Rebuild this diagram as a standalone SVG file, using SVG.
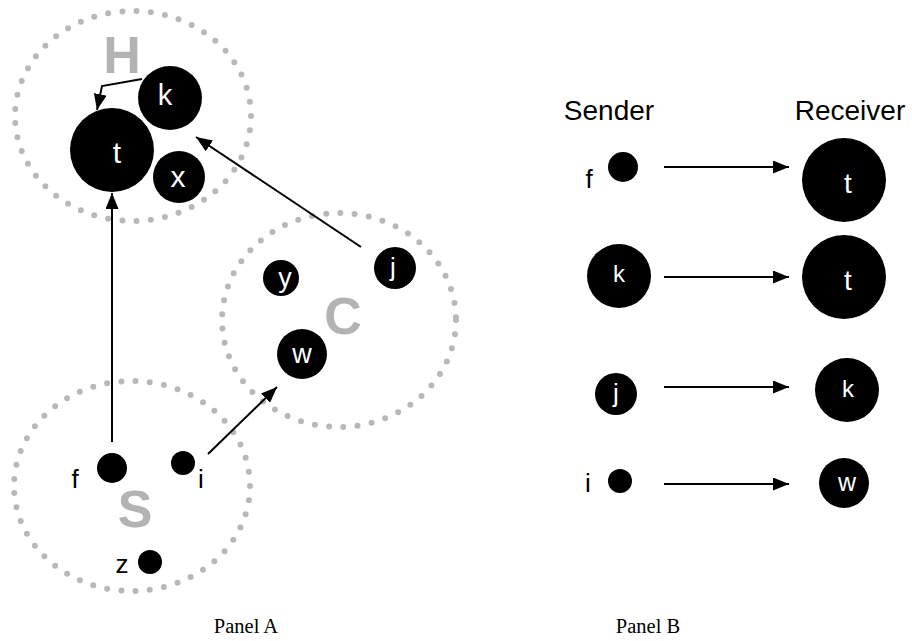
<svg xmlns="http://www.w3.org/2000/svg" width="912" height="641" viewBox="0 0 912 641">
<style>
.grp{fill:none;stroke:#b8b8b8;stroke-width:6;stroke-dasharray:0 14.3;stroke-linecap:round}
.big{font-family:"Liberation Sans",Arial,sans-serif;font-weight:bold;font-size:52px;fill:#b3b3b3;text-anchor:middle}
.node{fill:#000}
.in{font-family:"Liberation Sans",Arial,sans-serif;fill:#fff;text-anchor:middle}
.out{font-family:"Liberation Sans",Arial,sans-serif;fill:#000;text-anchor:middle;font-size:26px}
.hdr{font-family:"Liberation Sans",Arial,sans-serif;fill:#000;text-anchor:middle;font-size:28px}
.cap{font-family:"Liberation Serif","Times New Roman",serif;fill:#000;text-anchor:middle;font-size:20.5px}
.edge{fill:none;stroke:#000;stroke-width:2;marker-end:url(#ah)}
</style>
<defs>
<marker id="ah" markerUnits="userSpaceOnUse" markerWidth="16" markerHeight="13" refX="16" refY="6.5" orient="auto" viewBox="0 0 16 13">
<path d="M0,0 L16,6.5 L0,13 Z" fill="#000"/>
</marker>
</defs>
<rect width="912" height="641" fill="#fff"/>
<g id="groups">
<g id="group-H"><ellipse class="grp" cx="133" cy="116" rx="118" ry="105"/><text class="big" x="122" y="73">H</text></g>
<g id="group-C"><ellipse class="grp" cx="339" cy="320" rx="117" ry="107"/><text class="big" x="343" y="334">C</text></g>
<g id="group-S"><ellipse class="grp" cx="132" cy="486" rx="118" ry="105"/><text class="big" x="135" y="527">S</text></g>
</g>
<g id="nodes-A">
<g id="a-t"><circle class="node" cx="112" cy="150" r="42"/><text class="in" x="117" y="163" font-size="30">t</text></g>
<g id="a-k"><circle class="node" cx="170" cy="98" r="32"/><text class="in" x="165" y="105" font-size="29">k</text></g>
<g id="a-x"><circle class="node" cx="179" cy="177" r="26"/><text class="in" x="178" y="187" font-size="30">x</text></g>
<g id="a-y"><circle class="node" cx="281" cy="278" r="18"/><text class="in" x="285" y="287" font-size="27">y</text></g>
<g id="a-j"><circle class="node" cx="395" cy="268" r="21"/><text class="in" x="393" y="276" font-size="26">j</text></g>
<g id="a-w"><circle class="node" cx="302" cy="354" r="25"/><text class="in" x="302" y="363" font-size="27">w</text></g>
<g id="a-f"><circle class="node" cx="112" cy="468" r="15"/><text class="out" x="75" y="488">f</text></g>
<g id="a-i"><circle class="node" cx="183" cy="463" r="12"/><text class="out" x="201" y="488">i</text></g>
<g id="a-z"><circle class="node" cx="150" cy="562" r="12"/><text class="out" x="122" y="573">z</text></g>
</g>
<g id="nodes-B">
<text class="hdr" x="609" y="120">Sender</text>
<text class="hdr" x="850" y="120">Receiver</text>
<g id="b-f"><circle class="node" cx="623" cy="167" r="15"/><text class="out" x="589" y="188">f</text></g>
<g id="b-t1"><circle class="node" cx="844" cy="180" r="42"/><text class="in" x="848" y="193" font-size="28">t</text></g>
<g id="b-k"><circle class="node" cx="619" cy="276" r="32"/><text class="in" x="619" y="282" font-size="24">k</text></g>
<g id="b-t2"><circle class="node" cx="844" cy="277" r="42"/><text class="in" x="848" y="290" font-size="28">t</text></g>
<g id="b-j"><circle class="node" cx="616" cy="394" r="21"/><text class="in" x="616" y="402" font-size="26">j</text></g>
<g id="b-k2"><circle class="node" cx="847" cy="390" r="32"/><text class="in" x="848" y="397" font-size="24">k</text></g>
<g id="b-i"><circle class="node" cx="620" cy="481" r="12"/><text class="out" x="588" y="492">i</text></g>
<g id="b-w"><circle class="node" cx="844" cy="483" r="25"/><text class="in" x="847" y="491" font-size="25">w</text></g>
</g>
<g id="connectors">
<line class="edge" x1="112" y1="442" x2="112" y2="193"/>
<line class="edge" x1="208" y1="454" x2="277" y2="387"/>
<line class="edge" x1="361" y1="247" x2="196" y2="137"/>
<polyline class="edge" points="142,79 102,86 97,110"/>
<line class="edge" x1="664" y1="167" x2="789" y2="167"/>
<line class="edge" x1="664" y1="277" x2="789" y2="277"/>
<line class="edge" x1="664" y1="387" x2="789" y2="387"/>
<line class="edge" x1="664" y1="484" x2="789" y2="484"/>
</g>
<g id="captions">
<text class="cap" x="246" y="633">Panel A</text>
<text class="cap" x="648" y="633">Panel B</text>
</g>
</svg>
